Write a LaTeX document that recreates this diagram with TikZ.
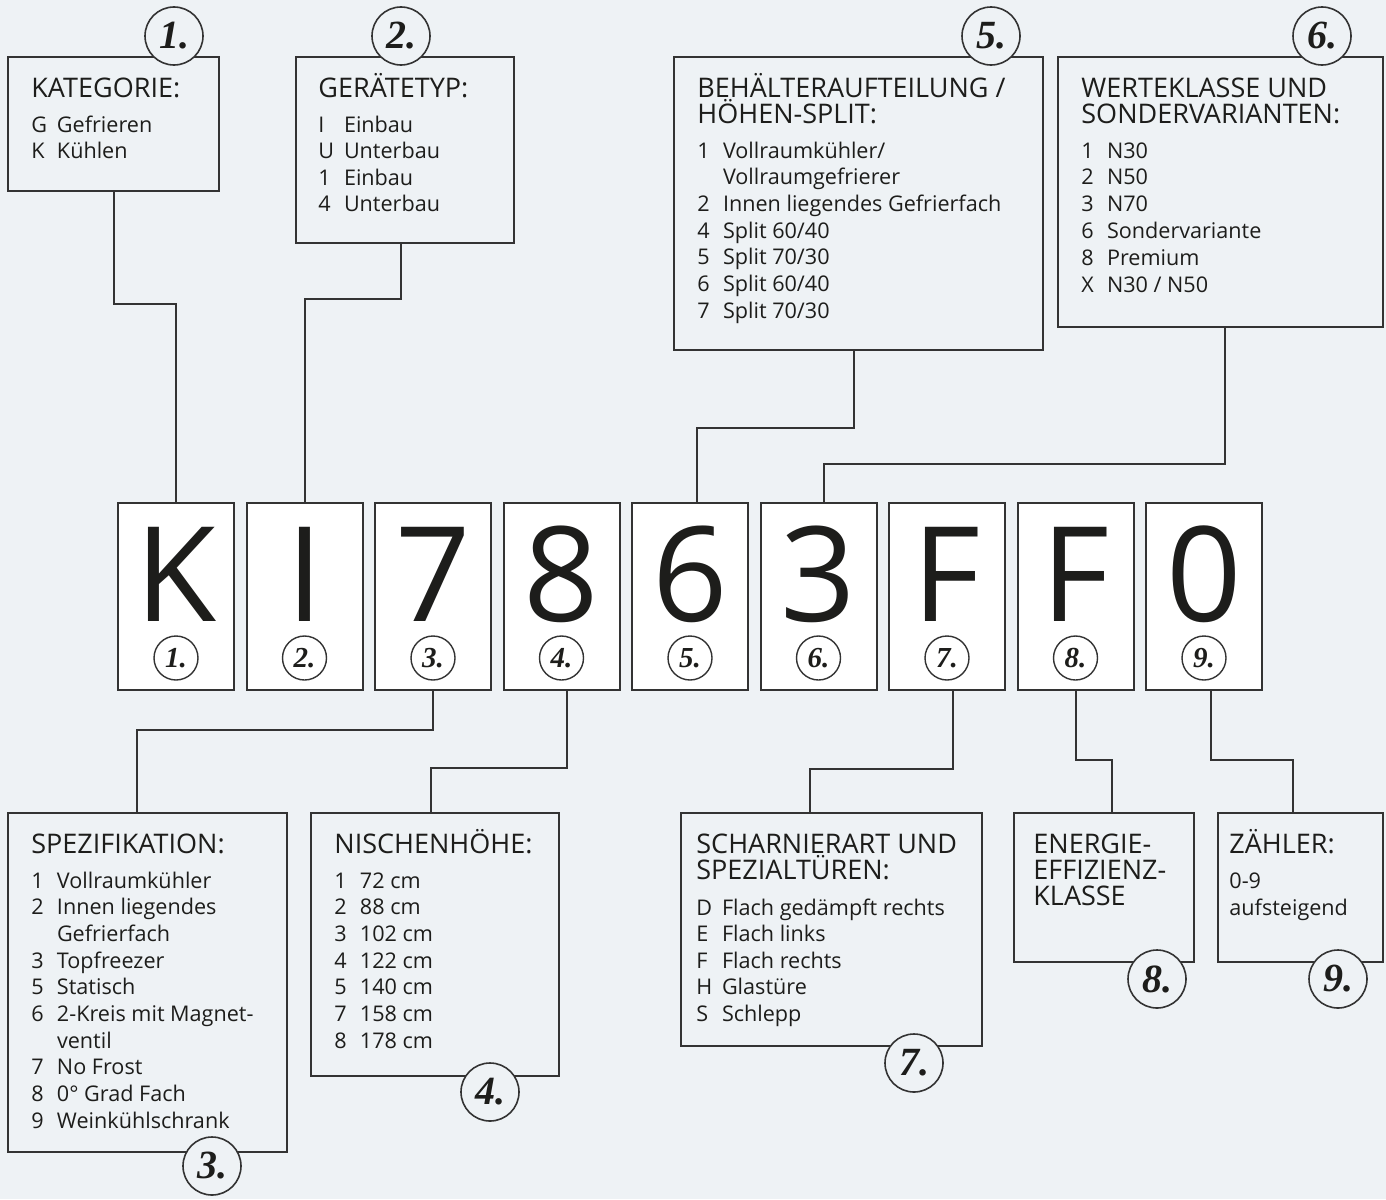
\documentclass[tikz,border=0pt]{standalone}
\usepackage{fontspec}
\setmainfont{Open Sans}
\newfontfamily\numfont{Liberation Serif}
\usetikzlibrary{fit,positioning}

\definecolor{bgcol}{HTML}{EEF2F5}
\definecolor{ink}{HTML}{1D1D1B}
\definecolor{linecol}{HTML}{333333}

\tikzset{
  infobox/.style={draw=linecol, line width=1pt, fill=bgcol, inner sep=0pt},
  letterbox/.style={draw=linecol, line width=1pt, fill=white, inner sep=0pt,
    minimum width=58pt, minimum height=93.5pt},
  bigletter/.style={anchor=base, inner sep=0pt, text=ink, text depth=0pt,
    font=\fontsize{66}{66}\selectfont},
  numcirc/.style={circle, draw=linecol, line width=0.8pt, fill=bgcol, inner sep=0pt,
    minimum size=29pt, text=ink, font=\numfont\bfseries\itshape\fontsize{20}{20}\selectfont},
  smallcirc/.style={circle, draw=linecol, line width=0.7pt, fill=white, inner sep=0pt,
    minimum size=22pt, text=ink, font=\numfont\bfseries\itshape\fontsize{14.5}{14.5}\selectfont},
  head/.style={anchor=base west, inner sep=0pt, text=ink, font=\fontsize{13.5}{13}\selectfont},
  item/.style={anchor=base west, inner sep=0pt, text=ink, font=\fontsize{10.8}{13}\selectfont},
  conn/.style={draw=linecol, line width=1pt},
}

% box spanning two corners, given in pixel coordinates
\newcommand{\infobox}[5]{\node[infobox, fit={(#2,#3) (#4,#5)}] (#1) {};}
\newcommand{\entry}[2]{\makebox[12.8pt][l]{#1}#2}

\begin{document}
\begin{tikzpicture}[x=0.5pt,y=-0.5pt]
  \fill[bgcol] (0,0) rectangle (1386,1199);
  \useasboundingbox (0,0) rectangle (1386,1199);

  % letter boxes of the model code
  \foreach \c [count=\i] in {K,I,7,8,6,3,F,F,0}{
    \node[letterbox] (L\i) at ({176+(\i-1)*128.5},596.5) {};
    \node[bigletter] (G\i) at ({176+(\i-1)*128.5},621) {\c};
    \node[smallcirc] (c\i) at ({176+(\i-1)*128.5},658) {\i.};
  }

  % explanation boxes
  \infobox{b1}{8}{57}{219}{191}
  \infobox{b2}{296}{57}{514}{243}
  \infobox{b5}{674}{57}{1043}{350}
  \infobox{b6}{1058}{57}{1383}{327}
  \infobox{b3}{8}{813}{287}{1152}
  \infobox{b4}{311}{813}{559}{1076}
  \infobox{b7}{681}{813}{982}{1046}
  \infobox{b8}{1014}{813}{1194}{962}
  \infobox{b9}{1218}{813}{1383}{962}

  % connectors
  \draw[conn] (b1.south) -- ++(0,112) -| (L1.north);
  \draw[conn] ([xshift=-2pt]b2.south) -- ++(0,55) -| (L2.north);
  \draw[conn] ([xshift=-2.25pt]b5.south) -- ++(0,77) -| ([xshift=3.5pt]L5.north);
  \draw[conn] ([xshift=2.25pt]b6.south) -- ++(0,136) -| ([xshift=2.75pt]L6.north);
  \draw[conn] (L3.south) -- ++(0,39) -| ([xshift=-5.25pt]b3.north);
  \draw[conn] ([xshift=2.75pt]L4.south) -- ++(0,77) -| ([xshift=-2pt]b4.north);
  \draw[conn] ([xshift=2.75pt]L7.south) -- ++(0,78) -| ([xshift=-10.75pt]b7.north);
  \draw[conn] (L8.south) -- ++(0,69) -| ([xshift=4pt]b8.north);
  \draw[conn] ([xshift=3.25pt]L9.south) -- ++(0,69) -| ([xshift=-3.75pt]b9.north);

  % 1. Kategorie
  \node[head] (h1) at (31,97) {KATEGORIE:};
  \foreach \k/\t [count=\j] in {G/Gefrieren, K/Kühlen}
    \node[item] (i1-\j) at (31,{132+(\j-1)*26.6}) {\entry{\k}{\t}};

  % 2. Geraetetyp
  \node[head] (h2) at (318,97) {GERÄTETYP:};
  \foreach \k/\t [count=\j] in {I/Einbau, U/Unterbau, 1/Einbau, 4/Unterbau}
    \node[item] (i2-\j) at (318,{132+(\j-1)*26.6}) {\entry{\k}{\t}};

  % 5. Behaelteraufteilung
  \node[head] (h5a) at (697,97) {BEHÄLTERAUFTEILUNG /};
  \node[head] (h5b) at (697,123) {HÖHEN-SPLIT:};
  \foreach \k/\t [count=\j] in {1/{Vollraumkühler/}, ~/Vollraumgefrierer,
      2/Innen liegendes Gefrierfach, 4/{Split 60/40}, 5/{Split 70/30},
      6/{Split 60/40}, 7/{Split 70/30}}
    \node[item] (i5-\j) at (697,{158+(\j-1)*26.7}) {\entry{\k}{\t}};

  % 6. Werteklasse
  \node[head] (h6a) at (1081,97) {WERTEKLASSE UND};
  \node[head] (h6b) at (1081,123) {SONDERVARIANTEN:};
  \foreach \k/\t [count=\j] in {1/N30, 2/N50, 3/N70, 6/Sondervariante,
      8/Premium, X/{N30 / N50}}
    \node[item] (i6-\j) at (1081,{158+(\j-1)*26.8}) {\entry{\k}{\t}};

  % 3. Spezifikation
  \node[head] (h3) at (31,853) {SPEZIFIKATION:};
  \foreach \k/\t [count=\j] in {1/Vollraumkühler, 2/Innen liegendes, ~/Gefrierfach,
      3/Topfreezer, 5/Statisch, 6/2-Kreis mit Magnet-, ~/ventil, 7/No Frost,
      8/0° Grad Fach, 9/Weinkühlschrank}
    \node[item] (i3-\j) at (31,{888+(\j-1)*26.7}) {\entry{\k}{\t}};

  % 4. Nischenhoehe
  \node[head] (h4) at (334,853) {NISCHENHÖHE:};
  \foreach \k/\t [count=\j] in {1/72 cm, 2/88 cm, 3/102 cm, 4/122 cm,
      5/140 cm, 7/158 cm, 8/178 cm}
    \node[item] (i4-\j) at (334,{888+(\j-1)*26.7}) {\entry{\k}{\t}};

  % 7. Scharnierart
  \node[head] (h7a) at (696,853) {SCHARNIERART UND};
  \node[head] (h7b) at (696,879) {SPEZIALTÜREN:};
  \foreach \k/\t [count=\j] in {D/Flach gedämpft rechts, E/Flach links,
      F/Flach rechts, H/Glastüre, S/Schlepp}
    \node[item] (i7-\j) at (696,{915+(\j-1)*26.6}) {\entry{\k}{\t}};

  % 8. Energieeffizienzklasse
  \node[head] (h8a) at (1033,853) {ENERGIE-};
  \node[head] (h8b) at (1033,879) {EFFIZIENZ-};
  \node[head] (h8c) at (1033,905) {KLASSE};

  % 9. Zaehler
  \node[head] (h9) at (1229,853) {ZÄHLER:};
  \node[item] (i9-1) at (1229,888) {0-9};
  \node[item] (i9-2) at (1229,915) {aufsteigend};

  % number badges on the boxes
  \node[numcirc] (n1) at (174,36) {1.};
  \node[numcirc] (n2) at (401,36) {2.};
  \node[numcirc] (n5) at (991,36) {5.};
  \node[numcirc] (n6) at (1322,36) {6.};
  \node[numcirc] (n3) at (212,1166) {3.};
  \node[numcirc] (n4) at (490,1092) {4.};
  \node[numcirc] (n7) at (914,1063) {7.};
  \node[numcirc] (n8) at (1157,979) {8.};
  \node[numcirc] (n9) at (1338,979) {9.};
\end{tikzpicture}
\end{document}
